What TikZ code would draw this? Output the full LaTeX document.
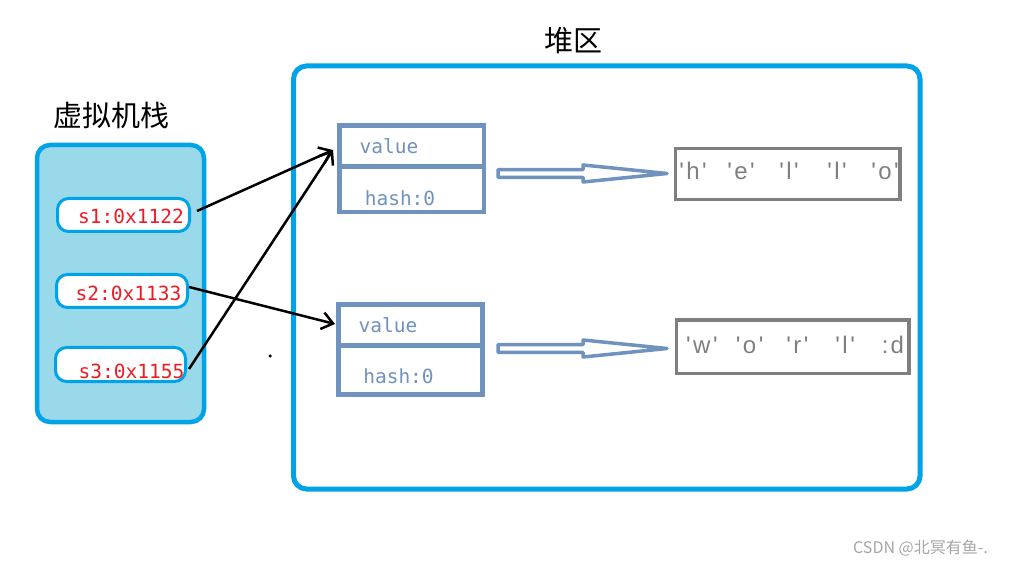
\documentclass[tikz,border=0pt]{standalone}
\usepackage{fontspec}
\setmainfont{Liberation Sans}
\newfontfamily\cjk{Noto Sans CJK SC}
\newfontfamily\monof{DejaVu Sans Mono}
\usetikzlibrary{arrows.meta,calc}
\definecolor{paintblue}{HTML}{00A2E8}
\definecolor{stackfill}{HTML}{99D9EA}
\definecolor{steel}{HTML}{7092BE}
\definecolor{paintred}{HTML}{ED1C24}
\definecolor{boxgray}{HTML}{7F7F7F}
\newcommand\myq{\textquotesingle}
\newcommand\mych[1]{\myq\hspace{2.5pt}#1\hspace{2.5pt}\myq}
\begin{document}
\begin{tikzpicture}[x=1pt,y=-1pt,
  every node/.style={inner sep=0pt, outer sep=0pt},
  region/.style={draw=paintblue, line width=5pt, rounded corners=13pt},
  title/.style={font=\cjk\fontsize{29}{30}\selectfont},
  oval/.style={draw=paintblue, fill=white, line width=3pt, rounded corners=11pt},
  redtext/.style={font=\monof\fontsize{19.5}{20}\selectfont, text=paintred, anchor=base},
  objpart/.style={draw=steel, line width=4.5pt},
  objtext/.style={font=\monof\fontsize{19.5}{20}\selectfont, text=steel, anchor=base},
  strbox/.style={draw=boxgray, line width=3.5pt},
  strtext/.style={font=\fontsize{24}{25}\selectfont, text=boxgray, anchor=base west},
  ptr/.style={draw=black, line width=2.5pt, -{Straight Barb[length=11pt,width=17pt]}},
  hollowarrow/.style={draw=steel, line width=3.5pt, line join=round,
    to path={let \p1=(\tikztostart), \p2=(\tikztotarget) in
      (\x1,\y1+3.8pt) -- (\x2-84pt,\y1+3.8pt) -- (\x2-84pt,\y1+8.5pt) -- (\x2,\y1)
      -- (\x2-84pt,\y1-8.5pt) -- (\x2-84pt,\y1-3.8pt) -- (\x1,\y1-3.8pt) -- cycle}}
]
\useasboundingbox (0,0) rectangle (1031,569);

% regions
\node[region, fill=white, minimum width=626.5pt, minimum height=423pt] (heap) at (606.75,277.5) {};
\node[region, fill=stackfill, line width=4.5pt, minimum width=167pt, minimum height=277pt] (stack) at (120.5,283.5) {};
\node[title] (stackt) at (111,115.5) {虚拟机栈};
\node[title] (heapt) at (573,40.5) {堆区};

% stack entries
\node[oval, minimum width=132pt, minimum height=33pt] (s1) at (123.5,215) {};
\node[oval, minimum width=131pt, minimum height=33pt] (s2) at (122,291) {};
\node[oval, minimum width=130pt, minimum height=34pt] (s3) at (120.5,364.5) {};
\node[redtext] (s1t) at (131,224) {s1:0x1122};
\node[redtext] (s2t) at (128.5,301) {s2:0x1133};
\node[redtext] (s3t) at (131.5,378) {s3:0x1155};

% objects
\node[objpart, minimum width=144.5pt, minimum height=41pt] (o1v) at (411.75,146) {};
\node[objpart, minimum width=144.5pt, minimum height=45.5pt] (o1h) at (411.75,189.25) {};
\node[objtext] (o1vt) at (389,154) {value};
\node[objtext] (o1ht) at (400,206) {hash:0};
\node[objpart, minimum width=144pt, minimum height=41pt] (o2v) at (410.5,325) {};
\node[objpart, minimum width=144pt, minimum height=49pt] (o2h) at (410.5,370) {};
\node[objtext] (o2vt) at (388,333) {value};
\node[objtext] (o2ht) at (398.5,384) {hash:0};

% char arrays
\node[strbox, minimum width=224.5pt, minimum height=51pt] (str1) at (787.75,174) {};
\node[strtext] (str1t) at (669,180) {\makebox[48pt]{\mych{h}}\makebox[48pt]{\mych{e}}\makebox[48pt]{\mych{l}}\makebox[48pt]{\mych{l}}\makebox[48pt]{\mych{o}}};
\node[strbox, minimum width=232.5pt, minimum height=53.5pt] (str2) at (792.75,346.75) {};
\node[strtext] (str2t) at (678,353) {\makebox[47.75pt]{\mych{w}}\makebox[47.75pt]{\mych{o}}\makebox[47.75pt]{\mych{r}}\makebox[47.75pt]{\mych{l}}\makebox[47.75pt]{:\hspace{2pt}d}};

% hollow arrows
\coordinate (h1s) at ($(o1v.south east)+(14,7)$);
\coordinate (h1e) at ([xshift=-8.5pt]str1.west);
\coordinate (h2s) at ($(o2v.south east)+(15.5,3)$);
\coordinate (h2e) at ([xshift=-9.5pt]str2.west);
\draw[hollowarrow] (h1s) to (h1e);
\draw[hollowarrow] (h2s) to (h2e);

% pointers
\coordinate (a1) at ($(s1.east)+(7.5,-4)$);
\coordinate (a2) at ($(s2.east)+(1.5,-4)$);
\coordinate (a3) at ($(s3.east)+(3.5,4.5)$);
\coordinate (t1) at ($(o1v.west)+(-6.5,4)$);
\coordinate (t2) at ($(o2v.west)+(-3.5,-1)$);
\draw[ptr] (a1) -- (t1);
\draw[ptr] (a3) -- (t1);
\draw[ptr] (a2) -- (t2);

\node[circle, fill=black, minimum size=3.5pt] (dot) at (270,356) {};

\node[font=\cjk\fontsize{16}{17}\selectfont, text=gray!70] (wm) at (920.5,548) {CSDN @北冥有鱼-.};
\end{tikzpicture}
\end{document}
